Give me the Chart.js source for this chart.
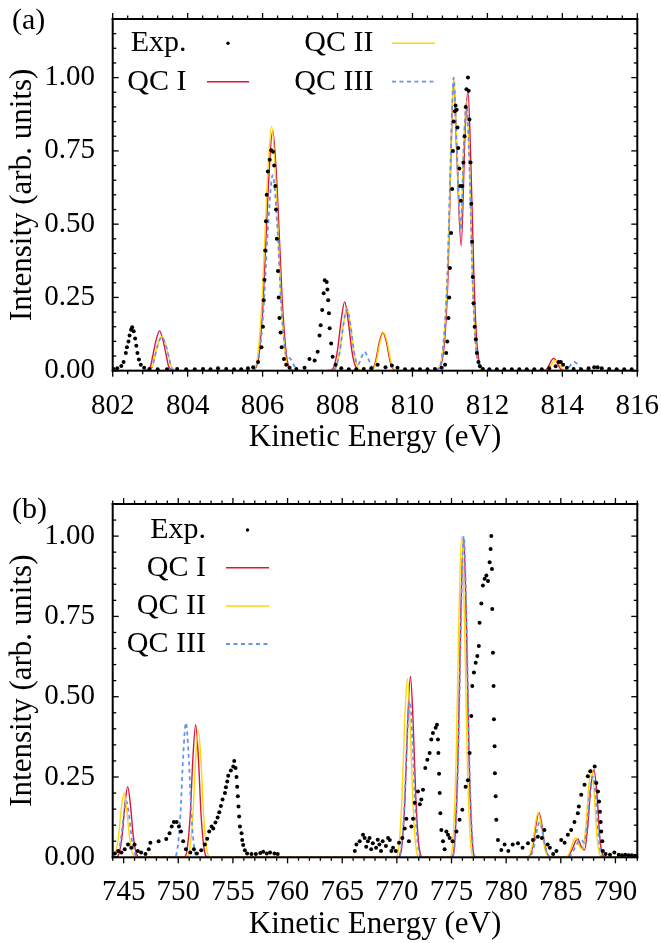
<!DOCTYPE html>
<html>
<head>
<meta charset="utf-8">
<script src="https://cdn.jsdelivr.net/npm/chart.js@4"></script>
<style>
  body { margin: 0; background: #fff; }
  canvas { position: absolute; left: 0; }
  #panelA { top: 0; }
  #panelB { top: 470px; }
</style>
</head>
<body>
<canvas id="panelA" width="661" height="470"></canvas>
<canvas id="panelB" width="661" height="473"></canvas>
<script>
// ---- panel (a): 802-816 eV ----
const ticksXA = [802, 804, 806, 808, 810, 812, 814, 816];
const ticksYA = [0, 0.25, 0.5, 0.75, 1.0];
const expA = [
  [802.02,0.006],[802.12,0.008],[802.23,0.016],[802.29,0.03],[802.35,0.06],[802.38,0.08],[802.42,0.10],
  [802.45,0.12],[802.49,0.14],[802.52,0.148],[802.56,0.135],[802.6,0.11],[802.63,0.085],[802.66,0.06],
  [802.7,0.038],[802.75,0.02],[802.84,0.01],[802.98,0.006],[803.2,0.005],[803.45,0.005],[803.72,0.006],
  [803.96,0.005],[804.19,0.005],[804.41,0.006],[804.61,0.005],[804.81,0.008],[805.03,0.006],[805.24,0.005],
  [805.43,0.005],[805.61,0.008],[805.75,0.012],[805.88,0.03],[805.97,0.08],[806.01,0.15],[806.03,0.24],
  [806.05,0.31],[806.07,0.41],[806.09,0.51],[806.11,0.60],[806.14,0.68],[806.19,0.72],[806.23,0.752],
  [806.28,0.747],[806.31,0.70],[806.34,0.63],[806.36,0.55],[806.38,0.45],[806.41,0.34],[806.43,0.25],
  [806.45,0.18],[806.48,0.13],[806.51,0.08],[806.57,0.04],[806.63,0.02],[806.72,0.01],[806.9,0.006],
  [807.12,0.01],[807.25,0.04],[807.39,0.035],[807.47,0.065],[807.52,0.12],[807.55,0.155],[807.59,0.207],
  [807.63,0.264],[807.66,0.309],[807.71,0.303],[807.73,0.277],[807.75,0.24],[807.77,0.196],[807.79,0.145],
  [807.83,0.093],[807.87,0.048],[807.95,0.02],[808.1,0.008],[808.3,0.005],[808.5,0.005],[808.7,0.006],
  [808.9,0.008],[809.07,0.02],[809.28,0.012],[809.45,0.018],[809.6,0.01],[809.8,0.005],[810.0,0.005],
  [810.2,0.005],[810.4,0.005],[810.6,0.006],[810.78,0.01],[810.87,0.02],[810.9,0.06],[810.93,0.10],
  [810.96,0.18],[810.98,0.25],[811.0,0.35],[811.03,0.47],[811.06,0.62],[811.08,0.75],[811.1,0.85],
  [811.13,0.885],[811.15,0.905],[811.18,0.89],[811.2,0.83],[811.22,0.76],[811.25,0.69],[811.27,0.63],
  [811.29,0.58],[811.33,0.63],[811.36,0.71],[811.39,0.80],[811.42,0.90],[811.44,0.96],[811.48,1.0],
  [811.5,0.955],[811.52,0.857],[811.55,0.71],[811.57,0.57],[811.59,0.44],[811.61,0.32],[811.63,0.23],
  [811.66,0.15],[811.69,0.107],[811.72,0.06],[811.76,0.03],[811.8,0.015],[811.88,0.006],[812.05,0.005],
  [812.25,0.005],[812.45,0.005],[812.65,0.005],[812.85,0.005],[813.05,0.005],[813.25,0.005],[813.45,0.005],
  [813.65,0.008],[813.82,0.015],[813.9,0.03],[813.96,0.03],[814.02,0.02],[814.12,0.01],[814.3,0.006],
  [814.5,0.005],[814.7,0.008],[814.85,0.012],[814.94,0.012],[815.05,0.008],[815.25,0.006],[815.45,0.005],
  [815.65,0.005],[815.85,0.005]
];
const qc1A = [
  [802,0],[802.85,0],[803.0,0.012],[803.06,0.045],[803.15,0.1],[803.25,0.136],[803.35,0.1],[803.44,0.045],
  [803.5,0.012],[803.65,0],[805.7,0],[805.82,0.01],[805.9,0.05],[806.02,0.25],[806.15,0.62],[806.27,0.82],
  [806.39,0.62],[806.52,0.25],[806.64,0.05],[806.72,0.01],[806.85,0],[807.75,0],[807.87,0.006],[807.94,0.03],
  [808.0,0.07],[808.1,0.175],[808.19,0.235],[808.28,0.175],[808.38,0.07],[808.44,0.03],[808.52,0.006],
  [808.65,0],[808.8,0],[808.93,0.004],[808.99,0.02],[809.03,0.04],[809.12,0.1],[809.21,0.13],[809.3,0.1],
  [809.39,0.04],[809.43,0.02],[809.5,0.004],[809.65,0],[810.6,0],[810.72,0.01],[810.8,0.04],[810.88,0.14],
  [810.95,0.33],[811.02,0.7],[811.1,0.99],[811.18,0.75],[811.3,0.425],[811.4,0.8],[811.48,0.957],
  [811.56,0.7],[811.64,0.32],[811.71,0.11],[811.78,0.03],[811.85,0.005],[811.95,0],[813.45,0],
  [813.58,0.005],[813.65,0.02],[813.71,0.035],[813.77,0.042],[813.83,0.035],[813.89,0.02],[813.96,0.005],
  [814.1,0],[816,0]
];
const qc2A = [
  [802,0],[802.9,0],[803.05,0.012],[803.11,0.04],[803.2,0.088],[803.31,0.118],[803.42,0.088],[803.51,0.04],
  [803.57,0.012],[803.7,0],[805.7,0],[805.8,0.01],[805.87,0.05],[805.99,0.25],[806.12,0.63],[806.24,0.834],
  [806.36,0.63],[806.49,0.25],[806.61,0.05],[806.69,0.01],[806.8,0],[807.8,0],[807.93,0.006],[808.0,0.03],
  [808.06,0.065],[808.16,0.16],[808.25,0.213],[808.34,0.16],[808.44,0.065],[808.5,0.03],[808.57,0.006],
  [808.7,0],[808.82,0],[808.95,0.004],[809.01,0.02],[809.05,0.04],[809.14,0.1],[809.23,0.13],[809.32,0.1],
  [809.41,0.04],[809.45,0.02],[809.52,0.004],[809.65,0],[810.6,0],[810.7,0.01],[810.78,0.04],[810.86,0.14],
  [810.94,0.35],[811.02,0.72],[811.1,1.0],[811.18,0.78],[811.29,0.49],[811.37,0.78],[811.44,0.92],
  [811.52,0.72],[811.6,0.33],[811.68,0.1],[811.75,0.03],[811.82,0.005],[811.9,0],[813.5,0],[813.63,0.005],
  [813.7,0.018],[813.76,0.03],[813.82,0.035],[813.88,0.03],[813.94,0.018],[814.01,0.005],[814.15,0],[816,0]
];
const qc3A = [
  [802,0],[802.9,0],[803.05,0.012],[803.11,0.04],[803.2,0.086],[803.31,0.115],[803.42,0.086],[803.51,0.04],
  [803.57,0.012],[803.7,0],[805.7,0],[805.82,0.01],[805.9,0.045],[806.02,0.2],[806.15,0.5],[806.27,0.667],
  [806.39,0.5],[806.5,0.22],[806.6,0.07],[806.66,0.048],[806.75,0.04],[806.85,0.015],[806.95,0],[807.8,0],
  [807.93,0.006],[808.0,0.03],[808.06,0.065],[808.16,0.16],[808.25,0.21],[808.34,0.16],[808.44,0.065],
  [808.5,0.03],[808.55,0.02],[808.62,0.04],[808.72,0.065],[808.82,0.04],[808.92,0.012],[809.0,0],[810.6,0],
  [810.7,0.01],[810.78,0.04],[810.86,0.15],[810.94,0.36],[811.02,0.73],[811.1,1.0],[811.18,0.77],
  [811.29,0.48],[811.37,0.77],[811.44,0.91],[811.52,0.7],[811.6,0.32],[811.68,0.1],[811.75,0.03],
  [811.82,0.005],[811.9,0],[814.05,0],[814.15,0.008],[814.24,0.022],[814.32,0.03],[814.4,0.022],
  [814.48,0.008],[814.6,0],[816,0]
];

// ---- panel (b): 744-792 eV ----
const ticksXB = [745, 750, 755, 760, 765, 770, 775, 780, 785, 790];
const ticksYB = [0, 0.25, 0.5, 0.75, 1.0];
const expB = [
  [744.2,0.012],[744.5,0.02],[744.8,0.015],[745.1,0.025],[745.4,0.04],[745.7,0.03],[746.0,0.04],[746.3,0.02],
  [746.6,0.015],[747.0,0.01],[747.3,0.025],[747.45,0.045],[748.2,0.05],[748.9,0.057],[749.2,0.075],
  [749.4,0.096],[749.6,0.11],[749.85,0.11],[750.06,0.096],[750.25,0.08],[750.45,0.05],[750.7,0.025],
  [751.1,0.015],[751.43,0.025],[751.7,0.012],[752.1,0.022],[752.43,0.04],[752.65,0.058],[752.83,0.08],
  [753.05,0.096],[753.2,0.09],[753.4,0.108],[753.6,0.124],[753.75,0.14],[753.9,0.16],[754.05,0.18],
  [754.27,0.2],[754.36,0.218],[754.48,0.236],[754.57,0.254],[754.81,0.27],[755.03,0.283],[755.12,0.30],
  [755.24,0.278],[755.33,0.25],[755.39,0.22],[755.45,0.19],[755.51,0.158],[755.57,0.127],[755.64,0.096],
  [755.79,0.075],[755.85,0.054],[755.94,0.038],[756.09,0.022],[756.3,0.012],[756.7,0.01],[757.1,0.01],
  [757.5,0.013],[757.77,0.017],[758.1,0.012],[758.4,0.015],[758.8,0.012],[759.1,0.01],[766.15,0.02],
  [766.3,0.04],[766.6,0.05],[766.9,0.07],[767.05,0.06],[767.2,0.033],[767.35,0.05],[767.5,0.06],[767.65,0.025],
  [767.8,0.044],[768.1,0.03],[768.25,0.055],[768.4,0.04],[768.55,0.02],[768.7,0.05],[769.0,0.035],
  [769.2,0.06],[769.35,0.054],[769.5,0.02],[769.65,0.03],[769.9,0.02],[770.2,0.045],[770.5,0.06],
  [770.72,0.09],[770.87,0.12],[771.1,0.05],[771.33,0.096],[771.48,0.12],[771.63,0.17],[771.93,0.205],
  [772.1,0.165],[772.24,0.18],[772.39,0.21],[772.6,0.278],[772.79,0.304],[773.0,0.325],[773.15,0.367],
  [773.3,0.387],[773.55,0.403],[773.67,0.413],[773.76,0.367],[773.8,0.325],[773.86,0.26],[773.92,0.2],
  [773.98,0.137],[774.07,0.085],[774.22,0.05],[774.37,0.025],[774.53,0.08],[774.68,0.07],[774.83,0.06],
  [775.1,0.05],[775.45,0.08],[775.74,0.117],[775.99,0.148],[776.29,0.22],[776.5,0.24],[776.66,0.325],
  [776.81,0.44],[776.9,0.533],[777.05,0.575],[777.21,0.606],[777.36,0.627],[777.5,0.658],[777.57,0.73],
  [777.73,0.79],[777.87,0.846],[778.03,0.867],[778.19,0.877],[778.34,0.86],[778.49,0.919],[778.58,0.96],
  [778.64,1.0],[778.7,0.898],[778.73,0.773],[778.79,0.637],[778.85,0.533],[778.88,0.43],[778.94,0.346],
  [778.97,0.262],[779.04,0.19],[779.1,0.117],[779.25,0.054],[779.56,0.023],[779.86,0.04],[780.2,0.02],
  [780.6,0.04],[781.08,0.044],[781.5,0.03],[782.0,0.044],[782.45,0.054],[782.9,0.064],[783.27,0.06],
  [783.5,0.085],[783.8,0.04],[784.0,0.03],[784.3,0.01],[784.6,0.02],[785.04,0.054],[785.35,0.045],
  [785.65,0.07],[785.95,0.085],[786.25,0.11],[786.56,0.137],[786.65,0.158],[786.87,0.195],[787.17,0.226],
  [787.47,0.252],[787.7,0.268],[788.1,0.283],[788.25,0.231],[788.4,0.205],[788.5,0.174],[788.58,0.142],
  [788.65,0.11],[788.7,0.08],[788.8,0.05],[788.85,0.02],[789.1,0.01],[789.5,0.008],[789.9,0.015],
  [790.3,0.008],[790.6,0.006],[790.9,0.008],[791.2,0.006],[791.5,0.006],[791.8,0.005]
];
const qc1B = [
  [744,0],[744.3,0],[744.57,0.011],[744.87,0.07],[745.12,0.165],[745.37,0.22],[745.62,0.165],[745.87,0.07],
  [746.17,0.011],[746.5,0],[750.5,0],[750.79,0.02],[751.09,0.13],[751.34,0.31],[751.59,0.413],[751.84,0.31],
  [752.09,0.13],[752.39,0.02],[752.7,0],[770.1,0],[770.44,0.03],[770.74,0.18],[770.99,0.42],[771.24,0.564],
  [771.49,0.42],[771.74,0.18],[772.04,0.03],[772.4,0],[775.0,0],[775.3,0.05],[775.6,0.32],[775.85,0.75],
  [776.1,0.997],[776.35,0.75],[776.6,0.32],[776.9,0.05],[777.2,0],[781.8,0],[782.2,0.008],[782.5,0.045],
  [782.75,0.105],[783.0,0.139],[783.25,0.105],[783.5,0.045],[783.8,0.008],[784.2,0],[785.5,0],[785.8,0.008],
  [786.1,0.03],[786.35,0.05],[786.56,0.057],[786.85,0.035],[787.17,0.023],[787.45,0.09],[787.75,0.22],
  [788.03,0.273],[788.3,0.2],[788.55,0.07],[788.8,0.01],[789.1,0],[792,0]
];
const qc2B = [
  [744,0],[744.23,0.01],[744.53,0.064],[744.78,0.15],[745.03,0.2],[745.28,0.15],[745.53,0.064],[745.83,0.01],
  [746.2,0],[750.7,0],[751.03,0.02],[751.33,0.127],[751.58,0.3],[751.83,0.396],[752.08,0.3],[752.33,0.127],
  [752.63,0.02],[752.95,0],[769.8,0],[770.16,0.028],[770.46,0.178],[770.71,0.417],[770.96,0.556],
  [771.21,0.417],[771.46,0.178],[771.76,0.028],[772.1,0],[774.8,0],[775.13,0.05],[775.43,0.32],[775.68,0.75],
  [775.93,1.0],[776.18,0.75],[776.43,0.32],[776.73,0.05],[777.05,0],[781.8,0],[782.13,0.008],[782.43,0.045],
  [782.68,0.105],[782.93,0.139],[783.18,0.105],[783.43,0.045],[783.73,0.008],[784.1,0],[785.4,0],
  [785.7,0.008],[786.0,0.035],[786.2,0.055],[786.4,0.06],[786.7,0.035],[787.0,0.025],[787.3,0.1],
  [787.55,0.22],[787.8,0.275],[788.05,0.2],[788.3,0.07],[788.55,0.01],[788.85,0],[792,0]
];
const qc3B = [
  [744,0],[744.15,0],[744.45,0.009],[744.75,0.056],[745.0,0.13],[745.25,0.175],[745.5,0.13],[745.75,0.056],
  [746.05,0.009],[746.4,0],[749.6,0],[749.9,0.021],[750.2,0.134],[750.45,0.315],[750.7,0.419],[750.95,0.315],
  [751.2,0.134],[751.5,0.021],[751.8,0],[770.0,0],[770.38,0.024],[770.68,0.155],[770.93,0.365],[771.18,0.486],
  [771.43,0.365],[771.68,0.155],[771.98,0.024],[772.3,0],[775.0,0],[775.32,0.05],[775.62,0.32],[775.87,0.75],
  [776.12,1.0],[776.37,0.75],[776.62,0.32],[776.92,0.05],[777.25,0],[781.9,0],[782.26,0.006],[782.56,0.035],
  [782.81,0.083],[783.06,0.11],[783.31,0.083],[783.56,0.035],[783.86,0.006],[784.2,0],[785.6,0],
  [785.95,0.008],[786.3,0.03],[786.6,0.048],[786.87,0.054],[787.15,0.045],[787.4,0.1],[787.65,0.2],
  [787.93,0.252],[788.2,0.19],[788.45,0.07],[788.7,0.01],[789.0,0],[792,0]
];

const labels = ['Exp.', 'QC I', 'QC II', 'QC III'];
const colors = ['#000000', '#dc143c', '#ffd700', '#6495ed'];

const serif = "'Liberation Serif', 'Times New Roman', serif";
const pts = arr => arr.map(([x, y]) => ({x, y}));

function makeSets(exp, q1, q2, q3) {
  const line = (i, data, dash, w, order) => ({
    label: labels[i], data: pts(data), showLine: true, fill: false,
    borderColor: colors[i], backgroundColor: colors[i], borderWidth: w, borderDash: dash,
    pointRadius: 0, cubicInterpolationMode: 'monotone', order
  });
  return [
    { label: labels[0], data: pts(exp), showLine: false, pointRadius: 2, pointBorderWidth: 0,
      backgroundColor: colors[0], borderColor: colors[0], order: 0 },
    line(1, q1, [], 1.4, 3),
    line(2, q2, [], 1.4, 2),
    line(3, q3, [4, 3.5], 1.8, 1)
  ];
}

// frame, tick marks, panel tag and key
const decor = {
  id: 'decor',
  afterDraw(chart) {
    const o = chart.config.options.plugins.decor;
    const {ctx, chartArea: a} = chart;
    const x = chart.scales.x, y = chart.scales.y;
    ctx.save();
    ctx.setLineDash([]);
    ctx.globalAlpha = 1;
    ctx.fillStyle = '#000';
    const isMajor = (v, step) => Math.abs(v / step - Math.round(v / step)) < 1e-6;
    // x ticks point outwards, y ticks inwards
    for (let k = 0; k <= Math.round((o.xMax - o.xMin) / o.xMinor); k++) {
      const v = o.xMin + k * o.xMinor;
      const px = x.getPixelForValue(v);
      const len = isMajor(v, o.xMajor) ? 6 : 3.5;
      ctx.fillRect(px - 0.65, a.bottom, 1.3, len);
      ctx.fillRect(px - 0.65, a.top - len, 1.3, len);
    }
    for (let k = 0; k <= Math.round(o.yMax / o.yMinor); k++) {
      const v = k * o.yMinor;
      const py = y.getPixelForValue(v);
      const len = isMajor(v, o.yMajor) ? 6 : 3.5;
      ctx.fillRect(a.left, py - 0.65, len, 1.3);
      ctx.fillRect(a.right - len, py - 0.65, len, 1.3);
    }
    ctx.fillRect(a.left - 1, a.top - 1, a.right - a.left + 2, 2);
    ctx.fillRect(a.left - 1, a.bottom - 1, a.right - a.left + 2, 2);
    ctx.fillRect(a.left - 1, a.top - 1, 2, a.bottom - a.top + 2);
    ctx.fillRect(a.right - 1, a.top - 1, 2, a.bottom - a.top + 2);

    ctx.font = '30px ' + serif;
    ctx.textBaseline = 'middle';
    ctx.textAlign = 'left';
    ctx.fillText(o.tag, 12, o.tagY);

    const sets = chart.data.datasets;
    o.key.forEach(([i, tx, ty, x1, x2]) => {
      const ds = sets[i];
      ctx.textAlign = 'right';
      ctx.fillStyle = '#000';
      ctx.fillText(ds.label, tx, ty);
      if (i === 0) {
        ctx.beginPath();
        ctx.arc((x1 + x2) / 2, ty, 1.7, 0, Math.PI * 2);
        ctx.fill();
      } else {
        ctx.beginPath();
        ctx.strokeStyle = ds.borderColor;
        ctx.lineWidth = ds.borderWidth;
        ctx.setLineDash(ds.borderDash);
        ctx.moveTo(x1, ty); ctx.lineTo(x2, ty);
        ctx.stroke();
        ctx.setLineDash([]);
      }
    });
    ctx.restore();
  }
};

function makeChart(id, sets, tx, ty, cfg) {
  const fixTicks = vals => s => { s.ticks = vals.map(v => ({ value: v })); };
  const noPad = s => { s.paddingLeft = 0; s.paddingRight = 0; s.paddingTop = 0; s.paddingBottom = 0; };
  return new Chart(document.getElementById(id), {
    type: 'scatter',
    data: { datasets: sets },
    plugins: [decor],
    options: {
      responsive: false,
      animation: false,
      devicePixelRatio: 1,
      layout: { padding: { top: cfg.top, right: 23.7, left: 0, bottom: 0 } },
      plugins: {
        legend: { display: false },
        tooltip: { enabled: false },
        decor: cfg.decor
      },
      scales: {
        x: {
          type: 'linear', min: cfg.decor.xMin, max: cfg.decor.xMax,
          afterBuildTicks: fixTicks(tx),
          afterFit: s => { noPad(s); s.height = cfg.xHeight; },
          grid: { display: false, drawTicks: false },
          border: { display: false },
          ticks: { color: '#000', padding: 18, maxRotation: 0, autoSkip: false,
                   font: { family: serif, size: 29, lineHeight: 1.2 } },
          title: { display: true, text: 'Kinetic Energy (eV)', color: '#000',
                   font: { family: serif, size: 31, lineHeight: 1.2 },
                   padding: { top: 0, bottom: cfg.titlePad } }
        },
        y: {
          type: 'linear', min: 0, max: cfg.decor.yMax,
          afterBuildTicks: fixTicks(ty),
          afterFit: s => { noPad(s); s.width = 112.7; },
          grid: { display: false, drawTicks: false },
          border: { display: false },
          ticks: { color: '#000', padding: 17.7, autoSkip: false,
                   callback: v => v.toFixed(2),
                   font: { family: serif, size: 29, lineHeight: 1.2 } },
          title: { display: true, text: 'Intensity (arb. units)', color: '#000',
                   font: { family: serif, size: 31, lineHeight: 1.2 },
                   padding: { top: 4, bottom: 0 } }
        }
      }
    }
  });
}

makeChart('panelA', makeSets(expA, qc1A, qc2A, qc3A), ticksXA, ticksYA, {
  top: 19, xHeight: 99.3, titlePad: 14,
  decor: {
    xMin: 802, xMax: 816, xMajor: 2, xMinor: 0.4, yMax: 1.2, yMajor: 0.25, yMinor: 0.05,
    tag: '(a)', tagY: 21.5,
    key: [[0, 186.5, 43.3, 207, 249], [1, 186.5, 81.7, 207, 249],
          [2, 373.4, 43.3, 392, 435], [3, 373.4, 81.7, 392, 435]]
  }
});

makeChart('panelB', makeSets(expB, qc1B, qc2B, qc3B), ticksXB, ticksYB, {
  top: 34, xHeight: 85.7, titlePad: 0,
  decor: {
    xMin: 744, xMax: 792, xMajor: 5, xMinor: 1, yMax: 1.1, yMajor: 0.25, yMinor: 0.05,
    tag: '(b)', tagY: 40,
    key: [[0, 206, 60, 226, 269], [1, 206, 97.7, 226, 269],
          [2, 206, 136, 226, 269], [3, 206, 174, 226, 269]]
  }
});
</script>
</body>
</html>
